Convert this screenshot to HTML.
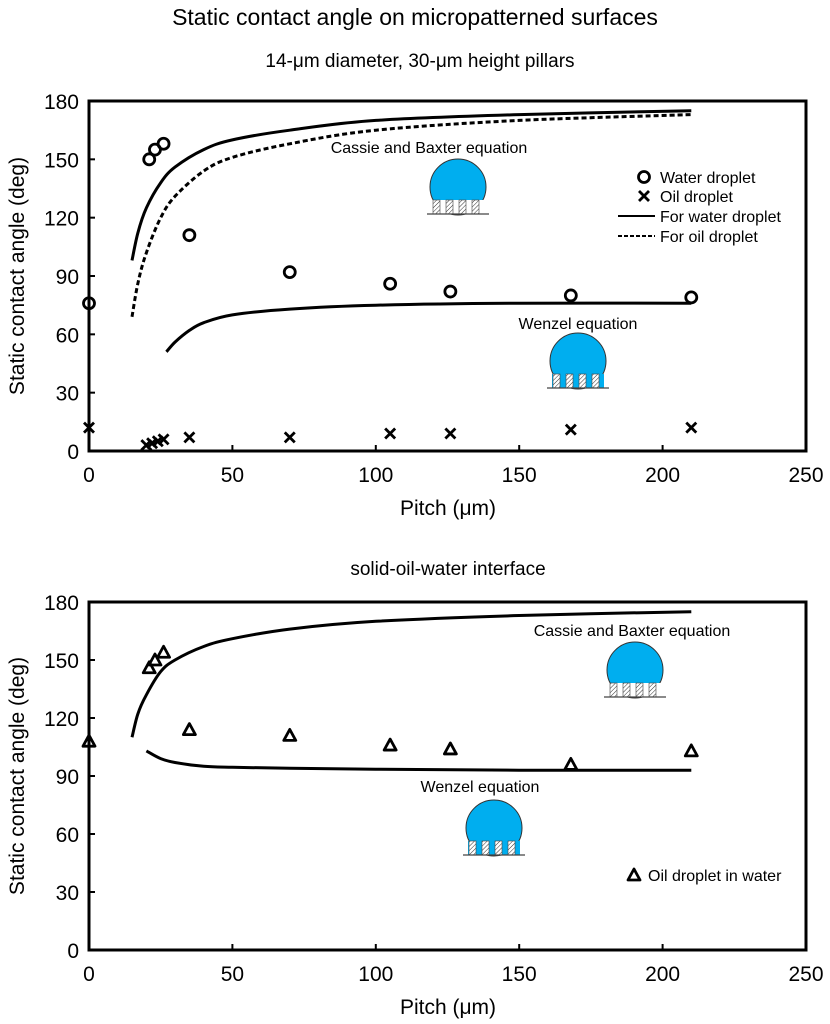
<!DOCTYPE html>
<html><head><meta charset="utf-8"><style>
body{margin:0;background:#fff;}
svg{display:block;font-family:"Liberation Sans",sans-serif;}
</style></head><body>
<svg id="s" width="830" height="1024" viewBox="0 0 830 1024">
<defs>
<pattern id="hatch" width="3" height="3" patternUnits="userSpaceOnUse" patternTransform="rotate(45)"><rect width="3" height="3" fill="#fff"/><line x1="0" y1="0" x2="0" y2="3" stroke="#333" stroke-width="1"/></pattern>
</defs>
<text x="415" y="25" font-size="23" text-anchor="middle">Static contact angle on micropatterned surfaces</text>
<text x="420" y="67" font-size="19" text-anchor="middle">14-μm diameter, 30-μm height pillars</text>
<text x="448" y="575" font-size="19" text-anchor="middle">solid-oil-water interface</text>
</svg>
<script>
// Top chart data
const waterPitch=[0,21,23,26,35,70,105,126,168,210];
const waterAngle=[76,150,155,158,111,92,86,82,80,79];
const oilPitch=[0,20,22,24,26,35,70,105,126,168,210];
const oilAngle=[12,3,4,5,6,7,7,9,9,11,12];
const cbWaterPitch=[15,17,20,25,30,40,50,70,100,150,210];
const cbWaterAngle=[98,112,125,138,146,155,160,165,170,173,175];
const cbOilPitch=[15,17,20,25,30,40,50,70,100,150,210];
const cbOilAngle=[69,86,102,120,131,144,151,158,165,170,173];
const wzWaterPitch=[27,30,35,40,50,70,100,150,210];
const wzWaterAngle=[51,56,62,66,70,73,75,76,76];
// Bottom chart data
const triPitch=[0,21,23,26,35,70,105,126,168,210];
const triAngle=[108,146,150,154,114,111,106,104,96,103];
const cbPitch2=[15,17,20,25,30,40,50,70,100,150,210];
const cbAngle2=[110,122,132,144,150,157,161,166,170,173,175];
const wzPitch2=[20,25,30,40,50,70,100,150,210];
const wzAngle2=[103,99,97,95,94.5,94,93.5,93,93];
const xTicks=[0,50,100,150,200,250];
const yTicks=[0,30,60,90,120,150,180];

const NS="http://www.w3.org/2000/svg";
const svg=document.getElementById('s');
function el(tag,attrs,parent){const e=document.createElementNS(NS,tag);for(const k in attrs)e.setAttribute(k,attrs[k]);(parent||svg).appendChild(e);return e;}

function makeChart(prefix,top,bottom){
  const L=89,R=806;
  const xs=v=>L+(v/250)*(R-L);
  const ys=v=>bottom-(v/180)*(bottom-top);
  const g=el('g',{});
  
  
  const fr=el('rect',{x:L,y:top,width:R-L,height:bottom-top,fill:'none',stroke:'#000','stroke-width':3},g);
  
  
  yTicks.forEach(t=>{
    const tk=el('line',{x1:L,x2:L+6,y1:ys(t),y2:ys(t),stroke:'#000','stroke-width':2},g);
    
    
    const tx=el('text',{x:L-10,y:ys(t)+8,'font-size':21,'text-anchor':'end'},g);
    tx.textContent=t;
    
    
  });
  xTicks.forEach(t=>{
    const tk=el('line',{x1:xs(t),x2:xs(t),y1:bottom,y2:bottom-6,stroke:'#000','stroke-width':2},g);
    
    
    const tx=el('text',{x:xs(t),y:bottom+31,'font-size':21,'text-anchor':'middle'},g);
    tx.textContent=t;
    
    
  });
  const xt=el('text',{x:448,y:bottom+64,'font-size':21,'text-anchor':'middle'},g);
  xt.textContent='Pitch (μm)';
  
  
  const cy=(top+bottom)/2;
  const yt=el('text',{x:0,y:0,'font-size':21,'text-anchor':'middle',transform:`translate(24,${cy}) rotate(-90)`},g);
  yt.textContent='Static contact angle (deg)';
  
  
  return {g,xs,ys};
}
function line(c,px,py,name,dash){
  const P=px.map((p,i)=>[c.xs(p),c.ys(py[i])]);
  let d='M'+P[0][0].toFixed(1)+','+P[0][1].toFixed(1);
  for(let i=0;i<P.length-1;i++){
    const p0=P[i-1]||P[i],p1=P[i],p2=P[i+1],p3=P[i+2]||P[i+1];
    const c1x=p1[0]+(p2[0]-p0[0])/6,c1y=p1[1]+(p2[1]-p0[1])/6;
    const c2x=p2[0]-(p3[0]-p1[0])/6,c2y=p2[1]-(p3[1]-p1[1])/6;
    d+=`C${c1x.toFixed(1)},${c1y.toFixed(1)} ${c2x.toFixed(1)},${c2y.toFixed(1)} ${p2[0].toFixed(1)},${p2[1].toFixed(1)}`;
  }
  const p=el('path',{d,fill:'none',stroke:'#000','stroke-width':3,'stroke-dasharray':dash||'none'},c.g);
  
  
}
function circ(g,x,y,name){const c=el('circle',{cx:x,cy:y,r:5.5,fill:'none',stroke:'#000','stroke-width':2.8},g);}
function cross(g,x,y,name){const p=el('path',{d:`M${x-5},${y-5}L${x+5},${y+5}M${x+5},${y-5}L${x-5},${y+5}`,stroke:'#000','stroke-width':2.8},g);}
function tri(g,x,y,name){const p=el('path',{d:`M${x},${y-6}L${x+6},${y+5}L${x-6},${y+5}Z`,fill:'none',stroke:'#000','stroke-width':2.8,'stroke-linejoin':'round'},g);}
function droplet(x,y,wenzel,name){
  const g=el('g',{});
  
  
  const base=y-14;
  el('circle',{cx:x,cy:base-13,r:28,fill:'#00aeef',stroke:'#333','stroke-width':1},g);
  el('rect',{x:x-26,y:base,width:52,height:14,fill:wenzel?'#00aeef':'#fff'},g);
  [-25,-12,1,14].forEach(o=>{ el('rect',{x:x+o,y:base,width:7,height:14,fill:'url(#hatch)',stroke:'#444','stroke-width':0.6},g);});
  el('line',{x1:x-31,x2:x+31,y1:y,y2:y,stroke:'#444','stroke-width':1.2},g);
}

// Top chart
const c1=makeChart('top',101,451);
line(c1,cbWaterPitch,cbWaterAngle,'cassie-water-line');
line(c1,cbOilPitch,cbOilAngle,'cassie-oil-line','5,3');
line(c1,wzWaterPitch,wzWaterAngle,'wenzel-water-line');
waterPitch.forEach((p,i)=>circ(c1.g,c1.xs(p),c1.ys(waterAngle[i]),'water-droplet-point'));
oilPitch.forEach((p,i)=>cross(c1.g,c1.xs(p),c1.ys(oilAngle[i]),'oil-droplet-point'));
let t;
t=el('text',{x:429,y:153,'font-size':16,'text-anchor':'middle'});t.textContent='Cassie and Baxter equation';


t=el('text',{x:578,y:329,'font-size':16,'text-anchor':'middle'});t.textContent='Wenzel equation';


droplet(458,214,false,'cassie-droplet-icon-top');
droplet(578,388,true,'wenzel-droplet-icon-top');
const lg=el('g',{});


circ(lg,644,177,'legend-water-marker');
cross(lg,644,196,'legend-oil-marker');
el('line',{x1:618,x2:655,y1:216,y2:216,stroke:'#000','stroke-width':2},lg);
el('line',{x1:618,x2:655,y1:236,y2:236,stroke:'#000','stroke-width':2,'stroke-dasharray':'4,2'},lg);
[['Water droplet',183],['Oil droplet',202],['For water droplet',222],['For oil droplet',242]].forEach(([s,y])=>{
  const tx=el('text',{x:660,y:y,'font-size':16},lg);tx.textContent=s;
  
  
});

// Bottom chart
const c2=makeChart('bottom',602,950);
line(c2,cbPitch2,cbAngle2,'cassie-oil-in-water-line');
line(c2,wzPitch2,wzAngle2,'wenzel-oil-in-water-line');
triPitch.forEach((p,i)=>tri(c2.g,c2.xs(p),c2.ys(triAngle[i]),'oil-in-water-point'));
t=el('text',{x:632,y:636,'font-size':16,'text-anchor':'middle'});t.textContent='Cassie and Baxter equation';


t=el('text',{x:480,y:792,'font-size':16,'text-anchor':'middle'});t.textContent='Wenzel equation';


droplet(635,697,false,'cassie-droplet-icon-bottom');
droplet(494,855,true,'wenzel-droplet-icon-bottom');
const lg2=el('g',{});


tri(lg2,634,875,'legend-oil-in-water-marker');
t=el('text',{x:648,y:881,'font-size':16},lg2);t.textContent='Oil droplet in water';


</script>
</body></html>
